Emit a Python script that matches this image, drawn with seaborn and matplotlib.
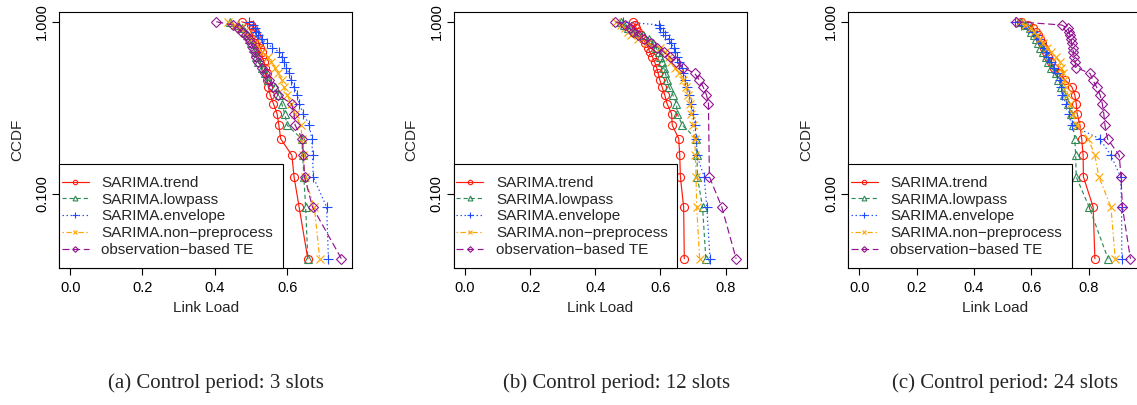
import numpy as np
import pandas as pd
import matplotlib
matplotlib.use("Agg")
import matplotlib.pyplot as plt
from matplotlib.patches import Rectangle
from matplotlib.ticker import MultipleLocator, FormatStrFormatter, NullLocator, FixedLocator, FixedFormatter
import seaborn as sns

# ---------------------------------------------------------------------------
# Link-load samples (one value per slot, 24 slots) for each control period
# ---------------------------------------------------------------------------
methods = ["SARIMA.trend", "SARIMA.lowpass", "SARIMA.envelope",
           "SARIMA.non\u2212preprocess", "observation\u2212based TE"]

captions = ["(a) Control period: 3 slots",
            "(b) Control period: 12 slots",
            "(c) Control period: 24 slots"]

# control period: 3 slots
trend_3 = [0.475, 0.501, 0.506, 0.510, 0.515, 0.519, 0.522, 0.525, 0.529, 0.531, 0.536, 0.540,
           0.543, 0.545, 0.548, 0.553, 0.562, 0.572, 0.577, 0.582, 0.613, 0.619, 0.633, 0.657]
lowpass_3 = [0.441, 0.465, 0.475, 0.482, 0.490, 0.495, 0.500, 0.505, 0.510, 0.515, 0.520, 0.530,
             0.538, 0.548, 0.565, 0.578, 0.585, 0.593, 0.600, 0.640, 0.643, 0.646, 0.651, 0.657]
envelope_3 = [0.495, 0.505, 0.510, 0.515, 0.520, 0.530, 0.545, 0.558, 0.578, 0.585, 0.590, 0.598,
              0.605, 0.611, 0.619, 0.628, 0.633, 0.645, 0.661, 0.668, 0.670, 0.672, 0.709, 0.714]
nonpre_3 = [0.435, 0.455, 0.470, 0.480, 0.490, 0.500, 0.510, 0.520, 0.530, 0.548, 0.556, 0.565,
            0.575, 0.585, 0.590, 0.600, 0.610, 0.622, 0.637, 0.642, 0.645, 0.648, 0.675, 0.690]
obs_3 = [0.404, 0.450, 0.465, 0.475, 0.485, 0.495, 0.500, 0.505, 0.510, 0.515, 0.520, 0.530,
         0.540, 0.550, 0.560, 0.575, 0.612, 0.619, 0.622, 0.642, 0.645, 0.648, 0.670, 0.750]

# control period: 12 slots
trend_12 = [0.516, 0.521, 0.526, 0.531, 0.539, 0.547, 0.554, 0.562, 0.567, 0.575, 0.582, 0.588,
            0.593, 0.598, 0.605, 0.613, 0.620, 0.634, 0.636, 0.656, 0.659, 0.661, 0.671, 0.673]
lowpass_12 = [0.480, 0.487, 0.500, 0.520, 0.545, 0.565, 0.577, 0.585, 0.595, 0.600, 0.605, 0.610,
              0.615, 0.620, 0.626, 0.638, 0.649, 0.651, 0.667, 0.710, 0.712, 0.713, 0.729, 0.739]
envelope_12 = [0.485, 0.596, 0.600, 0.608, 0.615, 0.625, 0.632, 0.640, 0.645, 0.652, 0.658, 0.665,
               0.670, 0.676, 0.682, 0.688, 0.693, 0.700, 0.705, 0.710, 0.712, 0.734, 0.742, 0.752]
nonpre_12 = [0.465, 0.480, 0.490, 0.500, 0.510, 0.530, 0.560, 0.600, 0.615, 0.625, 0.632, 0.645,
             0.658, 0.668, 0.678, 0.685, 0.690, 0.695, 0.700, 0.705, 0.707, 0.709, 0.711, 0.720]
obs_12 = [0.462, 0.490, 0.505, 0.516, 0.530, 0.550, 0.570, 0.590, 0.610, 0.628, 0.648, 0.670,
          0.705, 0.719, 0.731, 0.741, 0.747, 0.747, 0.747, 0.747, 0.747, 0.750, 0.788, 0.832]

# control period: 24 slots
trend_24 = [0.566, 0.590, 0.605, 0.615, 0.622, 0.630, 0.637, 0.645, 0.652, 0.660, 0.668, 0.680,
            0.698, 0.718, 0.742, 0.752, 0.757, 0.760, 0.770, 0.776, 0.781, 0.782, 0.816, 0.822]
lowpass_24 = [0.566, 0.580, 0.595, 0.600, 0.610, 0.617, 0.625, 0.632, 0.640, 0.650, 0.660, 0.670,
              0.685, 0.695, 0.705, 0.715, 0.728, 0.740, 0.745, 0.752, 0.755, 0.757, 0.802, 0.868]
envelope_24 = [0.545, 0.565, 0.590, 0.605, 0.615, 0.625, 0.635, 0.645, 0.652, 0.660, 0.670, 0.680,
               0.690, 0.700, 0.705, 0.708, 0.722, 0.733, 0.741, 0.839, 0.878, 0.912, 0.915, 0.916]
nonpre_24 = [0.560, 0.580, 0.600, 0.610, 0.620, 0.630, 0.640, 0.655, 0.670, 0.685, 0.700, 0.705,
             0.710, 0.715, 0.720, 0.728, 0.735, 0.745, 0.760, 0.799, 0.822, 0.836, 0.878, 0.893]
obs_24 = [0.548, 0.706, 0.728, 0.732, 0.735, 0.738, 0.741, 0.744, 0.747, 0.750, 0.753, 0.757,
          0.805, 0.815, 0.828, 0.840, 0.848, 0.853, 0.857, 0.866, 0.907, 0.913, 0.918, 0.946]

panels = [
    [trend_3, lowpass_3, envelope_3, nonpre_3, obs_3],
    [trend_12, lowpass_12, envelope_12, nonpre_12, obs_12],
    [trend_24, lowpass_24, envelope_24, nonpre_24, obs_24],
]

# line / marker styling per method (R-like open symbols)
colors = ["#FF1A0A", "#2E8B57", "#1E4BFF", "#FFA500", "#921492"]
markers = ["o", "^", "+", "x", "D"]
marker_sizes = [5.8, 6.3, 7.6, 5.8, 5.2]
line_styles = ["-", (0, (3.5, 2.5)), (0, (1.2, 2.2)), (0, (1.2, 2.2, 4.5, 2.2)), (0, (6, 3))]


def ccdf_frame(samples):
    """Empirical complementary CDF P(X >= x) at each distinct sample value."""
    x = np.sort(np.asarray(samples, dtype=float))
    vals, first = np.unique(x, return_index=True)
    return pd.DataFrame({"load": vals, "ccdf": (len(x) - first) / len(x)})


sns.set_theme(style="ticks")
plt.rcParams["font.family"] = ["Liberation Sans", "DejaVu Sans"]
plt.rcParams.update({
    "axes.edgecolor": "black",
    "axes.linewidth": 0.8,
    "xtick.color": "black",
    "ytick.color": "black",
    "xtick.major.size": 5,
    "ytick.major.size": 5,
    "xtick.major.width": 0.8,
    "ytick.major.width": 0.8,
    "xtick.direction": "out",
    "ytick.direction": "out",
})

W, H = 1137, 405
fig = plt.figure(figsize=(W / 100, H / 100), dpi=100)
fig.patch.set_facecolor("white")

ax_left_px = [59.3, 454.0, 848.3]
ax_w_px, ax_h_px = 293.0, 256.0
ax_bottom_px = 268.3
caption_x_px = [216, 617, 1005]

for i, panel in enumerate(panels):
    ax = fig.add_axes([ax_left_px[i] / W, 1 - ax_bottom_px / H, ax_w_px / W, ax_h_px / H])
    ax.set_facecolor("white")
    handles = []
    for j, samples in enumerate(panel):
        df = ccdf_frame(samples)
        sns.lineplot(data=df, x="load", y="ccdf", ax=ax, estimator=None, sort=True,
                     legend=False, color=colors[j], marker=markers[j],
                     markersize=marker_sizes[j], markerfacecolor="none",
                     markeredgecolor=colors[j], markeredgewidth=0.8,
                     linestyle=line_styles[j], linewidth=0.85)
        handles.append(ax.lines[-1])

    ax.set_yscale("log")
    # axis ranges padded by 4% on each side, as in base R graphics
    xmax = max(max(s) for s in panel)
    ax.set_xlim(-0.04 * xmax, 1.04 * xmax)
    ymin = 1.0 / len(panel[0])
    span = -np.log10(ymin)
    ax.set_ylim(10 ** (np.log10(ymin) - 0.04 * span), 10 ** (0.04 * span))

    ax.xaxis.set_major_locator(MultipleLocator(0.2))
    ax.xaxis.set_major_formatter(FormatStrFormatter("%.1f"))
    ax.yaxis.set_major_locator(FixedLocator([0.1, 1.0]))
    ax.yaxis.set_major_formatter(FixedFormatter(["0.100", "1.000"]))
    ax.yaxis.set_minor_locator(NullLocator())
    ax.tick_params(axis="x", labelsize=10.5, pad=4.5)
    ax.tick_params(axis="y", labelsize=10.5, pad=2.5)
    for lab in ax.get_yticklabels():
        lab.set_rotation(90)
        lab.set_va("center")

    for sp in ax.spines.values():
        sp.set_visible(True)
        sp.set_color("black")
        sp.set_linewidth(0.8)

    ax.set_xlabel("Link Load", fontsize=11)
    ax.set_ylabel("CCDF", fontsize=11)
    ax.xaxis.set_label_coords(0.5, -33.0 / ax_h_px)
    ax.yaxis.set_label_coords(-35.3 / ax_w_px, 0.5)

    # legend box anchored in the lower-left corner of the panel
    box = Rectangle((0, 0), 223.4 / ax_w_px, 104.0 / ax_h_px, transform=ax.transAxes,
                    facecolor="white", edgecolor="black", linewidth=0.8, zorder=4,
                    clip_on=False)
    ax.add_patch(box)
    leg = ax.legend(handles, methods, loc="center left",
                    bbox_to_anchor=(2.4 / ax_w_px, 51.9 / ax_h_px),
                    frameon=False, handlelength=1.77, handletextpad=0.83,
                    labelspacing=0.18, borderpad=0, borderaxespad=0,
                    markerscale=0.55, prop={"size": 11})
    leg.set_zorder(5)

    fig.text(caption_x_px[i] / W, 1 - 383.0 / H, captions[i], ha="center", va="center",
             fontsize=15, family=["Liberation Serif", "DejaVu Serif"])

fig.savefig("out.png", dpi=100, facecolor="white")
